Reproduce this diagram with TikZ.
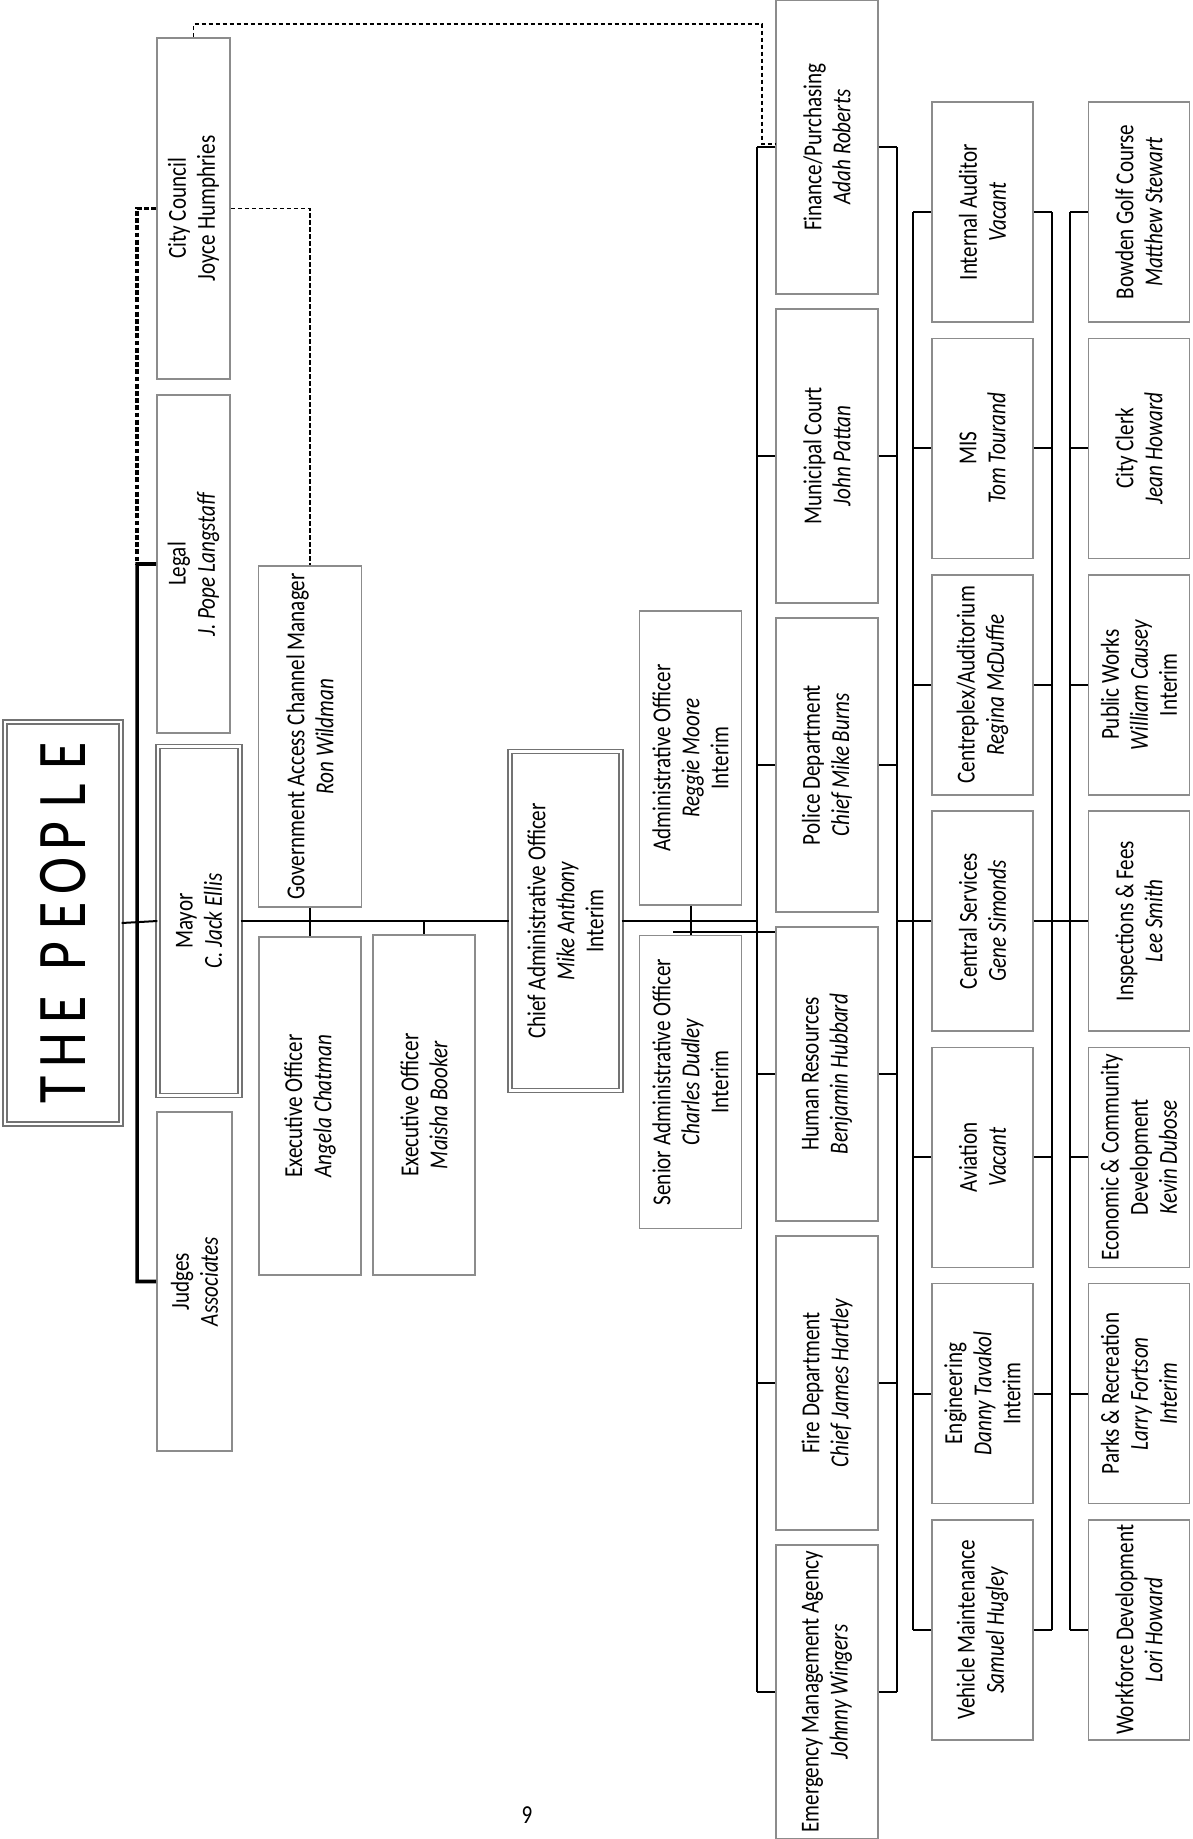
\documentclass[tikz,border=0pt]{standalone}
\usepackage{fontspec}
\setmainfont[FakeStretch=0.815]{Carlito}
\newfontfamily\titlefont[FakeStretch=0.8]{Carlito}
\begin{document}
\begin{tikzpicture}[x=0.5bp,y=-0.5bp,
  box/.style={draw=black!45, line width=0.8bp, rotate=90, inner sep=0pt, align=center,
    font=\fontsize{13}{14.6}\selectfont, fill=white},
  dbl/.style={box, draw=black!55, line width=0.7bp, double=white, double distance=1.3bp},
  cone/.style={box, minimum width=147bp, minimum height=51bp},
  ctwo/.style={box, minimum width=110bp, minimum height=50.5bp},
  conn/.style={draw=black, line width=1bp},
  thickbus/.style={draw=black, line width=1.8bp},
  thindash/.style={draw=black, line width=0.6bp, dash pattern=on 2.2bp off 1.3bp}
]
\useasboundingbox (0,0) rectangle (1193,1839);

% left column
\node[dbl, minimum width=201bp, minimum height=58bp] (people) at (63,923)
  {\titlefont\fontsize{35}{35}\selectfont
   \makebox[20bp]{T}\makebox[20bp]{H}\makebox[20bp]{E}\hspace{7bp}\makebox[20bp]{P}\makebox[20bp]{E}\makebox[20bp]{O}\makebox[20bp]{P}\makebox[20bp]{L}\makebox[20bp]{E}};
\node[box, minimum width=170.5bp, minimum height=36.5bp] (cc) at (193.5,208.3) {City Council\\Joyce Humphries};
\node[box, minimum width=169bp, minimum height=36.5bp] (legal) at (193.5,564) {Legal\\\textit{J. Pope Langstaff}};
\node[dbl, minimum width=174.5bp, minimum height=41bp] (mayor) at (199,921) {Mayor\\\textit{C. Jack Ellis}};
\node[box, minimum width=169.5bp, minimum height=37.5bp] (judges) at (194.5,1281.5) {Judges\\\textit{Associates}};

% second tier
\node[box, minimum width=170.5bp, minimum height=51.5bp] (gacm) at (310,736.5) {Government Access Channel Manager\\\textit{Ron Wildman}};
\node[box, minimum width=169bp, minimum height=51bp] (angela) at (310,1106) {Executive Officer\\\textit{Angela Chatman}};
\node[box, minimum width=170bp, minimum height=51bp] (maisha) at (424,1105) {Executive Officer\\\textit{Maisha Booker}};
\node[dbl, minimum width=169.5bp, minimum height=55.5bp] (cao) at (565.5,921) {Chief Administrative Officer\\\textit{Mike Anthony}\\Interim};
\node[box, minimum width=147bp, minimum height=51bp] (reggie) at (690.5,758) {Administrative Officer\\\textit{Reggie Moore}\\Interim};
\node[box, minimum width=146.5bp, minimum height=51bp] (senior) at (690.5,1082) {Senior Administrative Officer\\\textit{Charles Dudley}\\Interim};

% column 1
\node[cone] (fin) at (827,147) {Finance/Purchasing\\\textit{Adah Roberts}};
\node[cone] (mc) at (827,456) {Municipal Court\\\textit{John Pattan}};
\node[cone] (pd) at (827,765) {Police Department\\\textit{Chief Mike Burns}};
\node[cone] (hr) at (827,1074) {Human Resources\\\textit{Benjamin Hubbard}};
\node[cone] (fd) at (827,1383) {Fire Department\\\textit{Chief James Hartley}};
\node[cone] (ema) at (827,1692) {Emergency Management Agency\\\textit{Johnny Wingers}};

% column 2
\node[ctwo] (ia) at (982.5,212.1) {Internal Auditor\\\textit{Vacant}};
\node[ctwo] (mis) at (982.5,448.4) {MIS\\\textit{Tom Tourand}};
\node[ctwo] (cpx) at (982.5,684.7) {Centreplex/Auditorium\\\textit{Regina McDuffie}};
\node[ctwo] (cs) at (982.5,921) {Central Services\\\textit{Gene Simonds}};
\node[ctwo] (av) at (982.5,1157.3) {Aviation\\\textit{Vacant}};
\node[ctwo] (eng) at (982.5,1393.6) {Engineering\\\textit{Danny Tavakol}\\Interim};
\node[ctwo] (vm) at (982.5,1629.9) {Vehicle Maintenance\\\textit{Samuel Hugley}};

% column 3
\node[ctwo] (bgc) at (1139,212.1) {Bowden Golf Course\\\textit{Matthew Stewart}};
\node[ctwo] (clerk) at (1139,448.4) {City Clerk\\\textit{Jean Howard}};
\node[ctwo] (pw) at (1139,684.7) {Public Works\\\textit{William Causey}\\Interim};
\node[ctwo] (ins) at (1139,921) {Inspections \& Fees\\\textit{Lee Smith}};
\node[ctwo] (ecd) at (1139,1157.3) {Economic \& Community\\Development\\\textit{Kevin Dubose}};
\node[ctwo] (pr) at (1139,1393.6) {Parks \& Recreation\\\textit{Larry Fortson}\\\textit{Interim}};
\node[ctwo] (wf) at (1139,1629.9) {Workforce Development\\\textit{Lori Howard}};

\node[font=\fontsize{13}{13}\selectfont] (pg) at (527,1815) {9};

% left bus
\coordinate (ccbus) at ([xshift=-9.5bp]cc.north);
\coordinate (lgbus) at ([xshift=-9.5bp]legal.north);
\coordinate (jdbus) at ([xshift=-9.5bp]judges.north);
\draw[thickbus, dash pattern=on 2.4bp off 1.2bp] (cc.north) -- (ccbus) -- (lgbus);
\draw[thickbus] (legal.north) -- (lgbus) -- (jdbus) -- (judges.north);
\draw[conn] (people.south) -- (mayor.north);

% dashed links
\coordinate (dtop) at (762,24);
\draw[thindash] (cc.east) |- (dtop) |- ([yshift=1.5bp]fin.north);
\draw[thindash] (cc.south) -| (gacm.east);

% main line
\draw[conn] (mayor.south) -- (cao.north);
\draw[conn] (gacm.west) -- (angela.east);
\draw[conn] (maisha.east) -- (maisha.east |- mayor.south);
\draw[conn] (reggie.west) -- (senior.east);

% column 1 buses
\coordinate (b1L) at ([xshift=-9bp]fin.north);
\coordinate (b1Le) at ([xshift=-9bp]ema.north);
\coordinate (b1R) at ([xshift=9bp]fin.south);
\coordinate (b1Re) at ([xshift=9bp]ema.south);
\draw[conn] (b1L) -- (b1Le);
\draw[conn] (b1R) -- (b1Re);
\foreach \n in {fin,mc,pd,hr,fd,ema}{
  \draw[conn] (\n.north) -- ++(-18,0);
  \draw[conn] (\n.south) -- ++(18,0);
}
\draw[conn] (cao.south) -- (cao.south -| b1L);
\coordinate (sj) at (673,932);
\draw[conn] (sj) -- (sj -| hr.north);

% column 2 buses
\coordinate (b2L) at ([xshift=-9bp]ia.north);
\coordinate (b2Le) at ([xshift=-9bp]vm.north);
\coordinate (b2R) at ([xshift=9bp]ia.south);
\coordinate (b2Re) at ([xshift=9bp]vm.south);
\draw[conn] (b2L) -- (b2Le);
\draw[conn] (b2R) -- (b2Re);
\foreach \n in {ia,mis,cpx,cs,av,eng,vm}{
  \draw[conn] (\n.north) -- ++(-18,0);
  \draw[conn] (\n.south) -- ++(18,0);
}
\draw[conn] (b1R |- cs.north) -- (cs.north);

% column 3 bus
\coordinate (b3L) at ([xshift=-9bp]bgc.north);
\coordinate (b3Le) at ([xshift=-9bp]wf.north);
\draw[conn] (b3L) -- (b3Le);
\foreach \n in {bgc,clerk,pw,ins,ecd,pr,wf}{
  \draw[conn] (\n.north) -- ++(-18,0);
}
\draw[conn] (cs.south) -- (ins.north);
\end{tikzpicture}
\end{document}
